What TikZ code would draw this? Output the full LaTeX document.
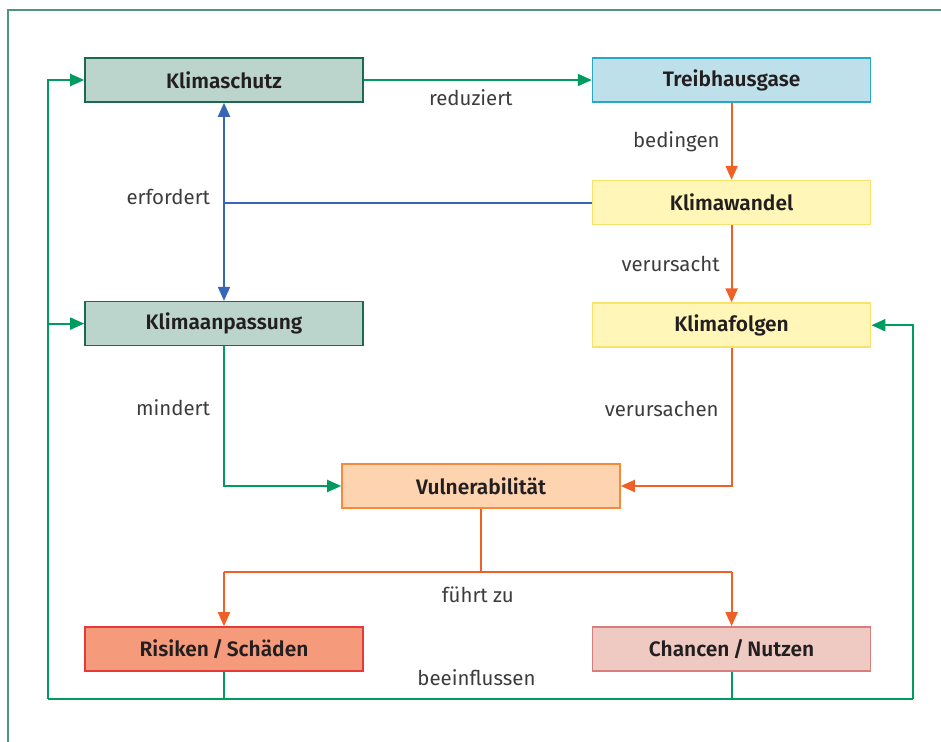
\documentclass[tikz,border=0pt]{standalone}
\usepackage{fontspec}
\setmainfont{Fira Sans}[BoldFont={Fira Sans SemiBold}]
\usepackage{tikz}
\usetikzlibrary{positioning,arrows.meta,calc}

\definecolor{frm}{RGB}{78,150,124}
\definecolor{grn}{RGB}{0,155,95}
\definecolor{blu}{RGB}{55,102,182}
\definecolor{org}{RGB}{240,96,38}
\definecolor{txt}{RGB}{35,31,32}
\definecolor{lbltxt}{RGB}{60,60,60}

\tikzset{
  box/.style={draw, line width=1.6bp, minimum width=278bp, minimum height=44bp,
    inner sep=0pt, text=txt, font=\fontsize{21}{25}\selectfont\bfseries},
  lbl/.style={text=lbltxt, font=\fontsize{20.5}{24}\selectfont, inner sep=0pt},
  tip/.style={-{Triangle[length=14bp,width=12bp]}},
  grnline/.style={draw=grn, line width=2bp},
  bluline/.style={draw=blu, line width=2bp},
  orgline/.style={draw=org, line width=2bp},
}

\begin{document}
\begin{tikzpicture}[x=1bp,y=-1bp]

  \useasboundingbox (0,0) rectangle (941,742);
  \draw[frm, line width=2.2bp] (8,742) -- (8,10) -- (941,10);

  \node[box, fill={rgb,255:red,188;green,213;blue,204}, draw={rgb,255:red,26;green,107;blue,78}] (b0) at (224,80) {Klimaschutz};
  \node[box, fill={rgb,255:red,190;green,224;blue,235}, draw={rgb,255:red,39;green,168;blue,201}] (b1) [right=228bp of b0] {Treibhausgase};
  \node[box, fill={rgb,255:red,255;green,246;blue,184}, draw={rgb,255:red,247;green,227;blue,106}] (b2) [below=77bp of b1] {Klimawandel};
  \node[box, fill={rgb,255:red,255;green,246;blue,184}, draw={rgb,255:red,247;green,227;blue,106}] (b3) [below=77bp of b2] {Klimafolgen};
  \node[box, fill={rgb,255:red,188;green,213;blue,204}, draw={rgb,255:red,26;green,107;blue,78}] (b4) [below=198bp of b0] {Klimaanpassung};
  \node[box, fill={rgb,255:red,253;green,211;blue,176}, draw={rgb,255:red,245;green,138;blue,60}] (b5) at (481,486) {Vulnerabilität};
  \node[box, fill={rgb,255:red,246;green,154;blue,124}, draw={rgb,255:red,230;green,58;blue,58}] (b6) at (224,649) {Risiken\,/\,Schäden};
  \node[box, fill={rgb,255:red,239;green,202;blue,195}, draw={rgb,255:red,217;green,124;blue,124}] (b7) [right=228bp of b6] {Chancen\,/\,Nutzen};

  % Klimaschutz -> Treibhausgase -> Klimawandel -> Klimafolgen
  \draw[grnline, tip] (b0) -- node[lbl, below=9bp, xshift=-7bp] {reduziert} (b1);
  \draw[orgline, tip] (b1) -- node[lbl, left=11bp] {bedingen} (b2);
  \draw[orgline, tip] (b2) -- node[lbl, left=11bp] {verursacht} (b3);

  % erfordert
  \coordinate (c0) at (b2.west -| b0.south);
  \draw[bluline] (b2) -- (c0) node[lbl, left=13bp, yshift=6bp] {erfordert};
  \draw[bluline, {Triangle[length=14bp,width=12bp]}-{Triangle[length=14bp,width=12bp]}] (b0) -- (b4);

  % into Vulnerabilitaet
  \draw[grnline, tip] (b4) |- node[lbl, left=13bp, pos=0.22] {mindert} (b5);
  \draw[orgline, tip] (b3) |- node[lbl, left=12bp, pos=0.22] {verursachen} (b5);

  % fuehrt zu
  \coordinate (c1) at ($(b5.south)+(0,63)$);
  \draw[orgline] (b5) -- (c1);
  \draw[orgline] (c1 -| b6) -- (c1 -| b7) node[lbl, midway, below=14bp] {führt zu};
  \draw[orgline, tip] (c1 -| b6) -- (b6);
  \draw[orgline, tip] (c1 -| b7) -- (b7);

  % beeinflussen
  \coordinate (c2) at (48,699);
  \coordinate (c3) at (913,699);
  \draw[grnline] (b6) -- (b6 |- c2);
  \draw[grnline] (b7) -- (b7 |- c2);
  \draw[grnline] (c2) -- (c3) node[lbl, midway, above=12bp, xshift=-4bp] {beeinflussen};
  \draw[grnline, tip] (c2) |- (b0);
  \draw[grnline, tip] (c2 |- b4) -- (b4);
  \draw[grnline, tip] (c3) |- (b3);

\end{tikzpicture}
\end{document}
